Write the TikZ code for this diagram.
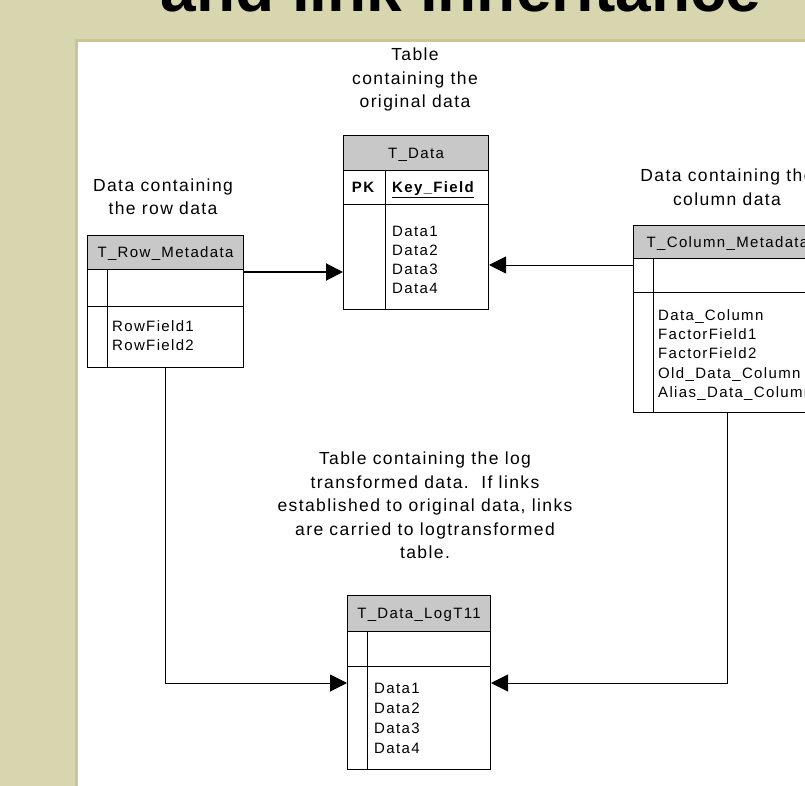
\documentclass[tikz,border=0pt]{standalone}
\usepackage{fontspec}
\usetikzlibrary{arrows.meta,calc}
\newfontfamily\tblfont[LetterSpace=9]{Liberation Sans}
\newfontfamily\notefont[LetterSpace=8]{Liberation Sans}
\newfontfamily\ttlfont{Liberation Sans}
\definecolor{bgolive}{HTML}{D8D6AE}
\definecolor{paneledge}{HTML}{C9C594}
\definecolor{hdrgray}{HTML}{C8C8C8}
\tikzset{
  tblbox/.style={draw=black, line width=1pt, fill=white, rectangle, inner sep=0pt, anchor=north west},
  hdrcell/.style={draw=black, line width=1pt, fill=hdrgray, rectangle, inner sep=0pt, anchor=north west,
    font=\tblfont\fontsize{15}{19}\selectfont, text height=10.5pt, text depth=0pt},
  field/.style={inner sep=0pt, anchor=west, font=\tblfont\fontsize{15}{19}\selectfont, text height=10.5pt, text depth=0pt},
  note/.style={inner sep=0pt, align=center, font=\notefont\fontsize{17.5}{23.5}\selectfont},
  rule/.style={draw=black, line width=1pt},
  conn/.style={draw=black, line width=1pt, -{Triangle[length=17pt,width=17pt]}},
  connbold/.style={conn, line width=2pt},
}
\begin{document}
\begin{tikzpicture}[x=1pt,y=-1pt]
\useasboundingbox (0,0) rectangle (805,786);
\clip (0,0) rectangle (805,786);
\fill[bgolive] (0,0) rectangle (805,786);
\node[anchor=base, inner sep=0pt, font=\ttlfont\bfseries\fontsize{64}{64}\selectfont] (title) at (461,12) {and link inheritance};
\draw[paneledge, line width=3pt, fill=white] (76.5,40.5) rectangle (812,795);

% annotations
\node[note] (n-data) at (415,79.5) {Table\\containing the\\original data};
\node[note] (n-row) at (163,196.5) {Data containing\\the row data};
\node[note] (n-col) at (727,187) {Data containing the\\column data};
\node[note] (n-log) at (425,505.5) {Table containing the log\\transformed data.\ \ If links\\established to original data, links\\are carried to logtransformed\\table.};

% T_Data
\node[tblbox, minimum width=145pt, minimum height=174pt] (tdata) at (343,135) {};
\node[hdrcell, minimum width=145pt, minimum height=35pt] (tdata-h) at (343,135) {T\_Data};
\draw[rule] (343,205) -- (488,205);
\draw[rule] (385,170) -- (385,309);
\node[field, anchor=center] (tdata-pk) at (363,187.5) {\bfseries PK};
\node[field] (tdata-key) at (392,187.5) {\bfseries\underline{Key\_Field}};
\foreach \t [count=\i] in {Data1,Data2,Data3,Data4}
  \node[field] (tdata-\i) at (392,{231+19*(\i-1)}) {\t};

% T_Row_Metadata
\node[tblbox, minimum width=156pt, minimum height=132pt] (trow) at (87,235) {};
\node[hdrcell, minimum width=156pt, minimum height=34pt] (trow-h) at (87,235) {T\_Row\_Metadata};
\draw[rule] (87,306) -- (243,306);
\draw[rule] (107,269) -- (107,367);
\node[field] (trow-1) at (112,326) {RowField1};
\node[field] (trow-2) at (112,345) {RowField2};

% T_Column_Metadata
\node[tblbox, minimum width=188pt, minimum height=187pt] (tcol) at (633,225) {};
\node[hdrcell, minimum width=188pt, minimum height=33pt] (tcol-h) at (633,225) {T\_Column\_Metadata};
\draw[rule] (633,292) -- (821,292);
\draw[rule] (653,258) -- (653,412);
\foreach \t [count=\i] in {Data\_Column,FactorField1,FactorField2,Old\_Data\_Column,Alias\_Data\_Column}
  \node[field] (tcol-\i) at (658,{315+19.25*(\i-1)}) {\t};

% T_Data_LogT11
\node[tblbox, minimum width=143pt, minimum height=174pt] (tlog) at (347,595) {};
\node[hdrcell, minimum width=143pt, minimum height=36pt] (tlog-h) at (347,595) {T\_Data\_LogT11};
\draw[rule] (347,666) -- (490,666);
\draw[rule] (367,631) -- (367,769);
\foreach \t [count=\i] in {Data1,Data2,Data3,Data4}
  \node[field] (tlog-\i) at (374,{688+20*(\i-1)}) {\t};

% connectors
\draw[connbold] (trow.east |- 0,272) -- (tdata.west |- 0,272);
\draw[conn] (tcol.west |- 0,265) -- (tdata.east |- 0,265);
\draw[conn] (trow.south) |- (tlog.west |- 0,683);
\draw[conn] (tcol.south) |- (tlog.east |- 0,683);
\end{tikzpicture}
\end{document}
